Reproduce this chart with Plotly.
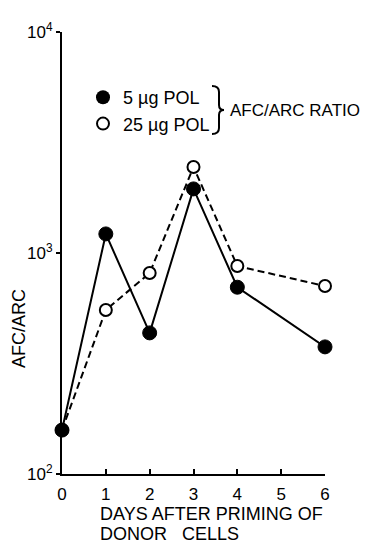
import plotly.graph_objects as go

days = [0, 1, 2, 3, 4, 6]
pol5 = [158, 1220, 435, 1950, 700, 376]
pol25 = [158, 552, 812, 2450, 873, 709]
x_ticks = [0, 1, 2, 3, 4, 5, 6]
x_tick_labels = ["0", "1", "2", "3", "4", "5", "6"]
y_ticks = [100, 1000, 10000]
y_tick_labels = ["10<sup>2</sup>", "10<sup>3</sup>", "10<sup>4</sup>"]
legend_names = ["5 µg POL", "25 µg POL"]

FONT = "Liberation Sans"

# page offset (browser body margin) is 8 px; plot area wanted at x 62..325, y 32..474
PL, PT, PW, PH = 62, 32, 263, 442


def px(x):
    return (x - PL) / PW


def py(y):
    return (PT + PH - y) / PH


fig = go.Figure()

fig.add_trace(go.Scatter(
    x=days, y=pol25, mode="lines+markers", showlegend=False,
    line=dict(color="black", width=2, dash="7px,4px"),
    marker=dict(symbol="circle", size=12, color="white", line=dict(color="black", width=2)),
    cliponaxis=False))
fig.add_trace(go.Scatter(
    x=days, y=pol5, mode="lines+markers", showlegend=False,
    line=dict(color="black", width=2),
    marker=dict(symbol="circle", size=14, color="black", line=dict(color="black", width=1)),
    cliponaxis=False))

# legend entries
fig.add_trace(go.Scatter(
    x=[None], y=[None], mode="markers", name=legend_names[0],
    marker=dict(symbol="circle", size=14, color="black")))
fig.add_trace(go.Scatter(
    x=[None], y=[None], mode="markers", name=legend_names[1],
    marker=dict(symbol="circle", size=12, color="white", line=dict(color="black", width=2))))

fig.update_layout(
    width=362, height=536,
    margin=dict(l=54, r=45, t=24, b=70),
    paper_bgcolor="white", plot_bgcolor="white",
    font=dict(family=FONT, size=18, color="black"),
    showlegend=True,
    legend=dict(x=px(83), y=py(110.5), xanchor="left", yanchor="middle",
                bgcolor="rgba(0,0,0,0)", font=dict(size=18, family=FONT),
                itemwidth=30, tracegroupgap=0),
    xaxis=dict(range=[0, 6], tickmode="array", tickvals=x_ticks, ticktext=x_tick_labels,
               showline=True, linecolor="black", linewidth=2, ticks="inside", ticklen=5,
               tickwidth=1.5, tickcolor="black", showgrid=False, zeroline=False,
               tickfont=dict(size=17), ticklabelstandoff=4),
    yaxis=dict(type="log", range=[2, 4], tickmode="array", tickvals=y_ticks, ticktext=y_tick_labels,
               showline=True, linecolor="black", linewidth=2, ticks="outside", ticklen=4,
               tickwidth=1.5, tickcolor="black", showgrid=False, zeroline=False,
               tickfont=dict(size=17)),
)

fig.add_annotation(text="AFC/ARC", x=px(19), y=py(329), xref="paper", yref="paper",
                   showarrow=False, textangle=-90, xanchor="center", yanchor="middle",
                   font=dict(size=18))
fig.add_annotation(text="AFC/ARC RATIO", xref="paper", yref="paper", x=px(228), y=py(110),
                   xanchor="left", yanchor="middle", showarrow=False, font=dict(size=17))
fig.add_annotation(text="DAYS AFTER PRIMING OF", xref="paper", yref="paper",
                   x=px(98), y=py(514.5), xanchor="left", yanchor="middle",
                   showarrow=False, font=dict(size=18))
fig.add_annotation(text="DONOR\u00a0\u00a0\u00a0CELLS", xref="paper", yref="paper",
                   x=px(98), y=py(534), xanchor="left", yanchor="middle",
                   showarrow=False, font=dict(size=18))

# brace
bx0, bx1, btip = 212, 219, 224
by0, bym, by1 = 86, 110, 134
path = (f"M {px(bx0)},{py(by0)} Q {px(bx1)},{py(by0)} {px(bx1)},{py(by0 + 6)} "
        f"L {px(bx1)},{py(bym - 5)} Q {px(bx1)},{py(bym)} {px(btip)},{py(bym)} "
        f"Q {px(bx1)},{py(bym)} {px(bx1)},{py(bym + 5)} "
        f"L {px(bx1)},{py(by1 - 6)} Q {px(bx1)},{py(by1)} {px(bx0)},{py(by1)}")
fig.add_shape(type="path", xref="paper", yref="paper", path=path,
              line=dict(color="black", width=2))

fig.write_html("out.html")
